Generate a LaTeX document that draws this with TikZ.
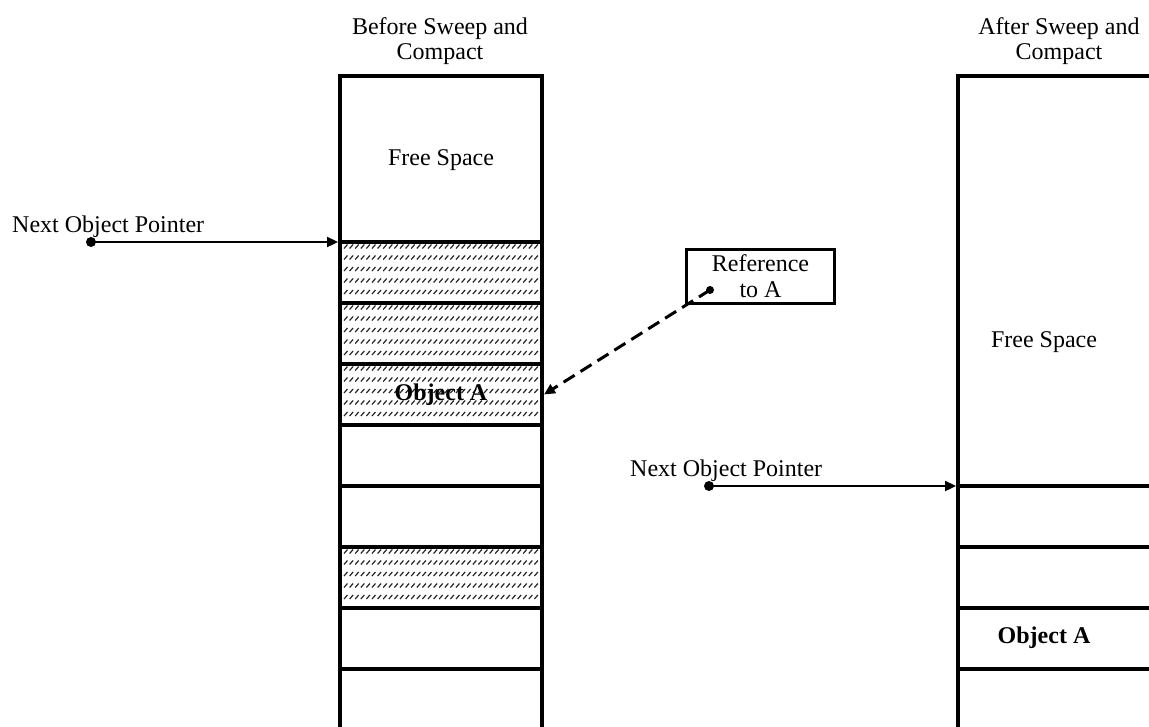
\documentclass[tikz,border=0pt]{standalone}
\usepackage{fontspec}
\setmainfont{Liberation Serif}
\usetikzlibrary{arrows.meta}
\begin{document}
\begin{tikzpicture}[x=1pt,y=-1pt,
 cell/.style={draw, line width=4pt, minimum width=202pt, minimum height=61pt, inner sep=0pt},
 rcell/.style={cell, minimum width=212pt},
 lbl/.style={font=\fontsize{24}{25}\selectfont, inner sep=0pt},
 obj/.style={font=\fontsize{24}{25}\selectfont\bfseries, inner sep=0pt},
 ptr/.style={line width=2.3pt, -{Triangle[length=11pt,width=10pt]}},
 dashptr/.style={line width=3pt, dash pattern=on 13pt off 7pt, -{Triangle[length=11pt,width=10pt]}},
 dotnode/.style={circle, fill, inner sep=0pt, minimum size=10pt},
 hatch/.style={black!85, line width=1.2pt}
]
\useasboundingbox (0,0) rectangle (1149,726);
\clip (0,0) rectangle (1149,726);

% hatching of live/garbage objects
\foreach \t in {242,303,364,547}
  \foreach \r in {4.5,15.5,27,38.5,50}
    \foreach \x in {344,349.6,...,537}
      \draw[hatch] (\x,\t+\r+2) -- (\x+3.5,\t+\r-2);

% left column
\node[cell, minimum height=166pt] (lfree) at (441,159) {};
\foreach \i in {0,...,7}
  \node[cell] (lc\i) at (441,272.5+61*\i) {};

% right column
\node[rcell, minimum height=410pt] (rfree) at (1064,281) {};
\foreach \i in {0,...,3}
  \node[rcell] (rc\i) at (1064,516.5+61*\i) {};

% headers
\node[lbl, align=center] (hdrL) at (440,41) {Before Sweep and\\Compact};
\node[lbl, align=center] (hdrR) at (1059,41) {After Sweep and\\Compact};

% texts in cells
\node[lbl] (freeL) at (441,160) {Free Space};
\node[lbl] (freeR) at (1044,342) {Free Space};
\node[obj] (objAL) at (441,395) {Object A};
\node[obj] (objAR) at (1044,638) {Object A};

% next object pointers
\node[lbl, anchor=base west] (nopL) at (12,232) {Next Object Pointer};
\node[dotnode] (dotL) at (91,242) {};
\draw[ptr] (dotL.center) -- (dotL.center -| lc0.west);

\node[lbl, anchor=base west] (nopR) at (630,476) {Next Object Pointer};
\node[dotnode] (dotR) at (709,486) {};
\draw[ptr] (dotR.center) -- (dotR.center -| rc0.west);

% reference to A
\node[draw, line width=3pt, minimum width=148pt, minimum height=54pt, inner sep=0pt,
      align=center, font=\fontsize{24}{25.5}\selectfont] (ref) at (760.5,276) {Reference\\to A};
\node[dotnode, minimum size=8pt] (refdot) at (710,290) {};
\draw[dashptr] (refdot.center) -- (lc2.east);
\end{tikzpicture}
\end{document}
